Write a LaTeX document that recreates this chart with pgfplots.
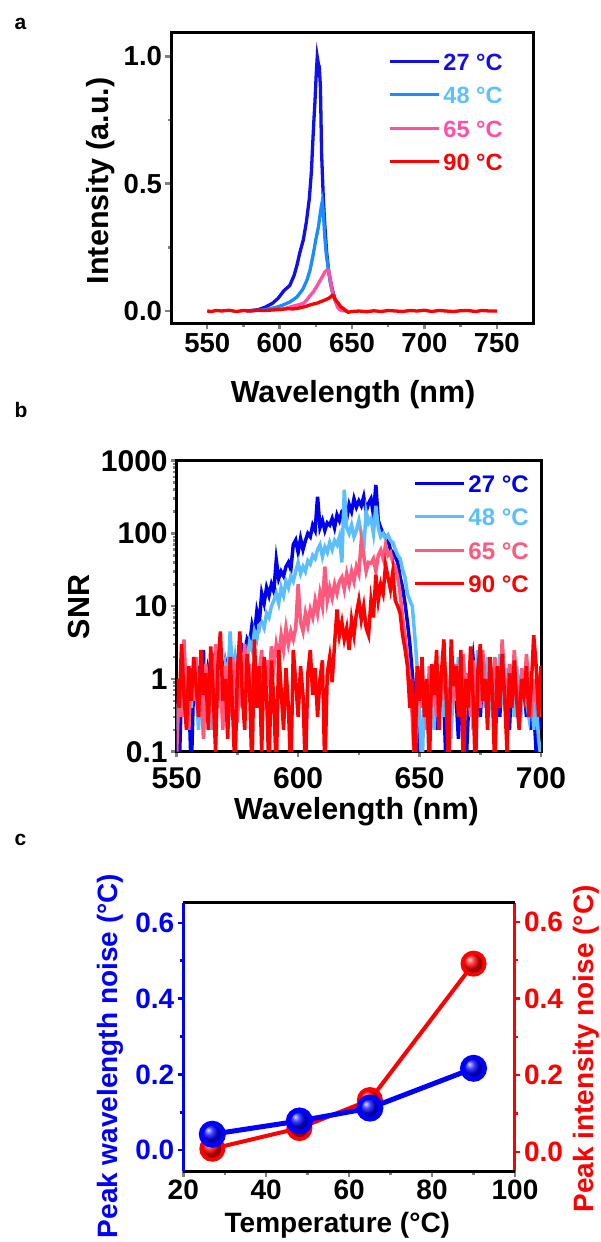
\documentclass[border=0pt]{standalone}
\usepackage{fontspec}
\setmainfont{Liberation Sans}
\usepackage{pgfplots}
\usepackage{pgfplotstable}
\pgfplotsset{compat=1.18}

\definecolor{ablue}{RGB}{16,16,235}
\definecolor{acyan}{RGB}{25,140,255}
\definecolor{acyantxt}{RGB}{90,195,250}
\definecolor{apink}{RGB}{255,80,165}
\definecolor{bblue}{RGB}{0,0,240}
\definecolor{bcyan}{RGB}{90,190,255}
\definecolor{bpink}{RGB}{255,90,125}

% SNR spectra, panel b
\pgfplotstableread{
wl   s27  s48  s65  s90
550 0.3 0.2 0.1 1.0
551 0.05 0.6 0.8 0.4
552 0.8 1.0 0.3 3.0
553 0.4 0.3 3.5 0.6
554 1.2 0.8 0.6 0.2
555 0.6 1.5 0.2 1.5
556 0.05 0.4 1.4 0.5
557 1.0 1.2 0.5 2.0
558 0.5 0.7 2.0 0.8
559 1.5 0.2 0.3 0.3
560 0.7 1.1 0.9 2.5
561 2.5 0.5 0.15 0.6
562 0.4 1.3 1.6 1.2
563 1.3 0.8 0.4 0.2
564 0.9 0.2 1.0 2.8
565 2.2 1.4 0.2 0.7
566 1.1 0.9 3.0 0.1
567 1.5 0.4 0.5 1.6
568 1.6 1.2 0.9 4.5
569 1.2 0.6 0.2 0.5
570 1.8 1.5 1.5 1.0
571 1.3 0.8 0.6 0.15
572 2.4 4.5 0.3 2.0
573 1.5 1.2 2.0 0.4
574 2.0 2.0 0.7 0.05
575 1.7 1.0 0.25 1.3
576 2.5 2.2 1.2 4.5
577 2.8 1.4 0.4 0.6
578 2.2 2.5 3.0 0.2
579 3.5 1.8 0.8 2.2
580 3.0 3.2 1.6 0.8
581 5.5 2.5 0.3 0.05
582 4.0 4.5 2.2 3.5
583 8.5 3.5 0.6 0.4
584 6.0 5.5 1.2 1.5
585 15 6.0 2.5 0.1
586 11 5.0 0.5 2.0
587 18 8.0 1.8 0.6
588 14 7.0 1.0 0.05
589 20 10 2.8 1.8
590 16 12 1.5 0.5
591 43 15 3.0 0.05
592 24 11 2.0 2.5
593 30 18 4.0 0.7
594 26 14 2.5 0.2
595 35 22 5.0 1.4
596 40 18 3.0 0.4
597 32 26 4.5 0.05
598 70 22 3.5 2.5
599 81 30 5.0 0.9
600 55 40 20 0.3
601 85 28 6.0 1.5
602 60 35 4.5 0.6
603 80 30 8.0 0.05
604 100 42 5.5 1.2
605 90 38 9.0 2.5
606 130 50 7.0 0.6
607 110 45 12 1.4
608 320 60 8.0 0.3
609 120 70 15 1.0
610 150 48 10 1.8
611 110 65 35 0.05
612 140 55 12 1.2
613 130 75 18 2.0
614 160 60 13 0.9
615 120 80 20 3.0
616 180 70 15 9.0
617 150 90 22 4.0
618 200 40 25 6.0
619 220 400 17 3.5
620 160 120 28 5.0
621 250 100 20 2.5
622 200 130 30 6.5
623 300 90 22 4.0
624 230 110 35 8.0
625 280 150 28 12
626 240 100 80 6.5
627 320 60 50 10
628 200 200 30 5.0
629 260 140 40 4.0
630 300 160 39 12
631 180 100 45 7.0
632 465 240 30 27
633 150 120 50 12
634 120 90 59 20
635 100 100 45 15
636 90 85 70 37
637 80 95 50 25
638 60 80 55 17
639 55 75 40 30
640 48 60 35 12
641 40 50 25 10
642 25 45 15 8.0
643 18 32 7.0 4.0
644 11 25 4.0 2.6
645 6 15 2.0 1.5
646 3 12 1.0 0.4
647 1.2 10 0.3 1.0
648 0.5 4 0.05 0.05
649 0.08 1.5 0.5 1.5
650 0.6 0.3 1.2 0.5
651 1.0 0.05 0.4 2.0
652 0.3 0.8 0.9 0.3
653 0.8 0.4 0.2 1.0
654 1.1 1.0 1.5 0.05
655 0.4 0.6 0.6 1.6
656 0.9 0.2 1.0 0.6
657 0.2 1.3 0.3 2.5
658 0.7 0.5 1.3 0.2
659 1.2 0.9 0.5 1.2
660 0.5 0.3 2.0 3.5
661 0.05 1.1 0.8 0.5
662 0.9 0.7 0.3 0.05
663 0.3 0.15 1.1 3.5
664 1.1 1.2 0.6 0.8
665 0.6 0.5 1.6 1.5
666 0.15 2.0 0.4 0.3
667 1.0 0.8 0.9 2.5
668 0.4 0.3 2.2 0.05
669 0.05 1.0 0.5 1.0
670 0.3 0.6 1.2 0.4
671 1.1 1.5 0.3 2.8
672 2.0 0.2 1.8 0.6
673 0.8 0.9 0.7 0.05
674 1.5 2.5 1.0 1.3
675 0.3 0.7 0.4 3.0
676 1.2 1.3 2.5 0.5
677 0.6 0.4 0.8 1.0
678 1.8 2.0 0.3 0.2
679 0.9 0.8 1.4 2.0
680 0.4 0.3 0.6 0.7
681 1.5 1.2 2.0 0.05
682 0.7 0.6 0.9 1.5
683 0.3 2.2 0.4 0.4
684 1.0 0.9 3.5 2.2
685 0.5 0.4 1.0 0.6
686 0.9 1.4 0.5 0.1
687 0.2 0.5 1.6 1.2
688 1.1 1.0 0.7 0.4
689 0.6 0.3 2.5 1.8
690 0.3 1.5 0.9 0.5
691 0.8 0.7 0.3 0.2
692 0.5 0.4 1.4 1.0
693 0.9 1.0 0.6 0.6
694 0.3 0.5 2.2 1.5
695 0.6 0.3 0.8 0.3
696 0.2 0.8 0.3 0.8
697 0.4 0.2 1.0 4.0
698 0.1 0.5 0.5 1.5
699 0.3 0.15 0.8 0.3
700 0.2 0.08 0.3 1.5
}\snrtable

\pgfplotsset{
  panel/.style={
    scale only axis, anchor=south west,
    axis line style={line width=3pt},
    tick style={line width=2.5pt},
    major tick length=5.5pt, minor tick length=3.5pt,
    tick align=outside,
    xtick pos=bottom, ytick pos=left,
    /pgf/number format/assume math mode=true,
    legend cell align=left,
    legend image code/.code={\draw[#1, line width=3.3pt] (0pt,1pt) -- (49pt,1pt);},
  },
}

\begin{document}
\begin{tikzpicture}
\useasboundingbox (0,0) rectangle (601pt,1242pt);

\node[anchor=base west, font=\fontsize{21}{21}\selectfont\bfseries] at (11pt,1212pt) {a};
\node[anchor=base west, font=\fontsize{21}{21}\selectfont\bfseries] at (11pt,824pt) {b};
\node[anchor=base west, font=\fontsize{21}{21}\selectfont\bfseries] at (11pt,396pt) {c};

% ---- a: normalised spectra
\begin{axis}[panel, at={(171pt,918pt)}, width=362pt, height=291pt,
  xmin=525, xmax=775, ymin=-0.051, ymax=1.092,
  xtick={550,600,650,700,750}, minor x tick num=1,
  ytick={0,0.5,1}, minor y tick num=1,
  yticklabel style={/pgf/number format/.cd, fixed, fixed zerofill, precision=1},
  tick label style={font=\fontsize{27.5}{27.5}\selectfont\bfseries},
  xlabel={Wavelength (nm)}, ylabel={Intensity (a.u.)},
  label style={font=\fontsize{30.5}{30.5}\selectfont\bfseries},
  xlabel style={at={(axis description cs:0.503,-0.2715)}, anchor=base},
  ylabel style={at={(axis description cs:-0.1934,0.492)}, anchor=center},
  legend style={at={(axis description cs:0.5994,0.958)}, anchor=north west,
    draw=none, fill=none, inner sep=0pt, row sep=0pt, column sep=3pt,
    font=\fontsize{23.5}{23.5}\selectfont\bfseries,
    nodes={inner sep=0pt, text height=25pt, text depth=8.5pt}},
]
\addplot[ablue, line width=3.3pt] coordinates {
(577,0) (585,0.005) (590,0.015) (595,0.03) (599,0.05) (603,0.08) (607,0.10)
(610,0.14) (612,0.18) (614,0.23) (616.4,0.28) (618.5,0.35) (620.5,0.44)
(622,0.55) (622.8,0.65) (623.6,0.74) (624.4,0.82) (625.3,0.93) (626,0.998)
(626.8,0.97) (627.4,0.96) (628.2,0.88) (629,0.62) (630.2,0.44) (631.3,0.33)
(632.5,0.23) (634,0.15) (636,0.095) (638,0.05) (639.4,0.03) (641,0.015)
(643,0.005) (646,0)};
\addlegendentry{\textcolor{ablue}{27 °C}}
\addplot[acyan, line width=3.3pt] coordinates {
(579,0) (590,0.005) (598,0.015) (602.5,0.024) (607,0.035) (612,0.055)
(616,0.085) (618.8,0.12) (621,0.16) (623.4,0.228) (625,0.28) (626.8,0.33)
(628,0.38) (628.8,0.41) (629.5,0.43) (630.2,0.39) (631.2,0.29) (632.3,0.22)
(633.5,0.174) (635,0.11) (636.6,0.07) (638.5,0.04) (640.5,0.02)
(642.5,0.005) (645,0)};
\addlegendentry{\textcolor{acyantxt}{48 °C}}
\addplot[apink, line width=3.3pt] coordinates {
(600,0.005) (605,0.012) (610,0.02) (614,0.026) (616.4,0.03) (619,0.045)
(621,0.06) (623.4,0.076) (626,0.1) (628,0.12) (630,0.14) (631.2,0.153)
(632.5,0.16) (633.6,0.16) (634.5,0.14) (636,0.09) (637.2,0.06) (638.4,0.04)
(640,0.015) (641.5,0.005) (644,0)};
\addlegendentry{\textcolor{apink}{65 °C}}
\addplot[red, line width=3.3pt] coordinates {
(550,0) (553,-0.002) (556,0.002) (560,0) (565,0.003) (570,-0.002) (575,0.002)
(580,0) (585,0.003) (590,0.002) (595,0.004) (598,0.005) (602,0.007)
(606,0.009) (609,0.008) (612,0.01) (615,0.014) (618,0.018) (620.5,0.023)
(623,0.027) (626,0.031) (628,0.036) (630,0.04) (632,0.045) (634,0.05)
(635.3,0.056) (636.3,0.062) (637.2,0.06) (638.5,0.045) (640.6,0.03)
(642,0.018) (643.9,0.01) (645.5,0.003) (647.4,-0.005) (650,-0.002) (655,0)
(660,-0.003) (665,0.001) (670,-0.002) (675,0.002) (680,0) (685,-0.002)
(690,0.002) (695,0) (700,0.003) (705,-0.002) (710,0.002) (715,0)
(720,-0.002) (725,0.001) (730,0.002) (735,-0.002) (740,0.002) (745,0) (750,0)};
\addlegendentry{\textcolor{red}{90 °C}}
\end{axis}

% ---- b: signal-to-noise ratio
\begin{axis}[panel, at={(176.7pt,490.3pt)}, width=364.3pt, height=291pt,
  ymode=log, ymin=0.1, ymax=1000, xmin=550, xmax=700,
  xtick={550,600,650,700}, minor x tick num=1,
  log ticks with fixed point, /pgf/number format/1000 sep={},
  tick label style={font=\fontsize{30}{30}\selectfont\bfseries},
  yticklabel style={inner ysep=0pt},
  xticklabel style={inner ysep=0pt, yshift=-10pt},
  xlabel={Wavelength (nm)}, ylabel={SNR},
  label style={font=\fontsize{30.5}{30.5}\selectfont\bfseries},
  xlabel style={at={(axis description cs:0.4936,-0.2347)}, anchor=base},
  ylabel style={at={(axis description cs:-0.268,0.497)}, anchor=center},
  legend style={at={(axis description cs:0.6486,0.9775)}, anchor=north west,
    draw=none, fill=none, inner sep=0pt, row sep=0pt, column sep=3pt,
    font=\fontsize{24}{24}\selectfont\bfseries,
    nodes={inner sep=0pt, text height=25pt, text depth=8.5pt}},
]
\addplot[bblue, line width=3.5pt] table[x=wl, y=s27] {\snrtable};
\addlegendentry{\textcolor{bblue}{27 °C}}
\addplot[bcyan, line width=3.5pt] table[x=wl, y=s48] {\snrtable};
\addlegendentry{\textcolor{bcyan}{48 °C}}
\addplot[bpink, line width=3.5pt] table[x=wl, y=s65] {\snrtable};
\addlegendentry{\textcolor{bpink}{65 °C}}
\addplot[red, line width=3.5pt] table[x=wl, y=s90] {\snrtable};
\addlegendentry{\textcolor{red}{90 °C}}
\end{axis}

% ---- c: noise vs temperature (right axis first, so blue sits on top)
\begin{axis}[panel, at={(183.3pt,71pt)}, width=331.7pt, height=268.3pt,
  xmin=20, xmax=100, ymin=-0.050, ymax=0.650,
  axis x line=none, axis y line*=right, ytick pos=right,
  y axis line style={draw=red},
  ytick={0,0.2,0.4,0.6}, minor y tick num=1,
  ytick style={draw=red},
  yticklabel style={red, /pgf/number format/.cd, fixed, fixed zerofill, precision=1},
  tick label style={font=\fontsize{28}{28}\selectfont\bfseries},
  ylabel={Peak intensity noise (°C)},
  ylabel style={red, font=\fontsize{28}{28}\selectfont\bfseries,
    at={(axis description cs:1.214,0.455)}, anchor=center, rotate=0},
]
\addplot[red, line width=4pt, mark=ball, mark size=11pt,
  mark options={ball color=red, draw=none}] coordinates {
(27,0.008) (48,0.062) (65,0.135) (90,0.491)};
\end{axis}
\begin{axis}[panel, at={(183.3pt,71pt)}, width=331.7pt, height=268.3pt,
  xmin=20, xmax=100, ymin=-0.055, ymax=0.653,
  axis x line*=box, axis y line*=left,
  y axis line style={draw=blue},
  xtick={20,40,60,80,100}, minor x tick num=1,
  ytick={0,0.2,0.4,0.6}, minor y tick num=1,
  ytick style={draw=blue},
  yticklabel style={blue, /pgf/number format/.cd, fixed, fixed zerofill, precision=1},
  tick label style={font=\fontsize{28}{28}\selectfont\bfseries},
  xlabel={Temperature (°C)}, ylabel={Peak wavelength noise (°C)},
  label style={font=\fontsize{28}{28}\selectfont\bfseries},
  xlabel style={at={(axis description cs:0.4646,-0.231)}, anchor=base},
  ylabel style={blue, at={(axis description cs:-0.221,0.4286)}, anchor=center},
]
\addplot[blue, line width=5pt, mark=ball, mark size=11pt,
  mark options={ball color=blue, draw=none}] coordinates {
(27,0.042) (48,0.077) (65,0.111) (90,0.216)};
\end{axis}
\end{tikzpicture}
\end{document}
